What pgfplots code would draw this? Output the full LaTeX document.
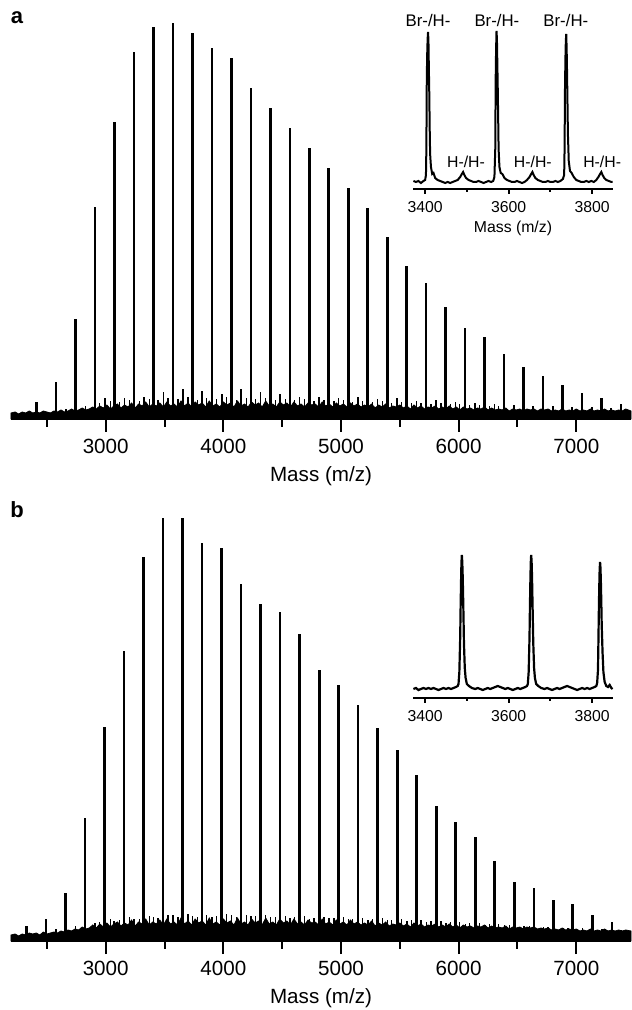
\documentclass[border=0pt]{standalone}
\usepackage{fontspec}
\setmainfont{Liberation Sans}
\usepackage{pgfplots}
\pgfplotsset{compat=1.18}

\pgfplotsset{
  spec/.style={scale only axis, clip=false,
    axis x line=bottom, axis y line=none,
    x axis line style={-, line width=1pt},
    tick align=outside,
    tick style={black, line width=1pt},
    /pgf/number format/1000 sep={},
    /pgf/number format/assume math mode=true,
    ymin=0},
  main/.style={spec, width=310pt, xmin=2195, xmax=7465,
    xtick={3000,4000,5000,6000,7000}, minor xtick={2500,3500,4500,5500,6500},
    major tick length=6.5pt, minor tick length=4pt,
    tick label style={font=\fontsize{10.3}{12}\selectfont}},
  inset/.style={spec, width=100pt, xmin=3371, xmax=3850,
    xtick={3400,3600,3800}, minor xtick={3500,3700},
    major tick length=2.5pt, minor tick length=1.5pt,
    tick label style={font=\fontsize{7.9}{9}\selectfont}},
}
\newcommand{\mainfont}{\fontsize{10.3}{12}\selectfont}
\newcommand{\insfont}{\fontsize{7.9}{9}\selectfont}
\newcommand{\brfont}{\fontsize{8.4}{10}\selectfont}

\begin{document}
\begin{tikzpicture}
\path[use as bounding box] (0,0) rectangle (315.5pt,505pt);

% ---------- panel a ----------
\node[font=\bfseries\fontsize{11}{13}\selectfont] at (8.5pt,496pt) {a};
\begin{axis}[main, at={(5.5pt,295.5pt)}, anchor=south west, height=199.5pt, ymax=399]
% baseline noise
\addplot[black, fill=black, line width=0.4pt] coordinates {
(2195,6)(2230,7)(2260,5)(2290,7)(2320,6)(2350,8)(2380,6)(2410,7)(2440,6)(2470,8)
(2500,7)(2530,6)(2560,8)(2590,7)(2620,9)(2650,7)(2680,8)(2710,10)(2740,8)(2770,9)
(2800,11)(2830,9)(2860,10)(2890,12)(2920,10)(2950,13)(2980,11)(3010,14)(3040,10)(3070,13)
(3100,15)(3130,11)(3160,14)(3190,12)(3220,16)(3250,11)(3280,15)(3310,13)(3340,17)(3370,12)
(3400,15)(3430,13)(3460,16)(3490,12)(3520,17)(3550,13)(3580,15)(3610,12)(3640,18)(3670,13)
(3700,16)(3730,12)(3760,17)(3790,14)(3820,16)(3850,12)(3880,18)(3910,13)(3940,15)(3970,12)
(4000,17)(4030,14)(4060,16)(4090,12)(4120,18)(4150,13)(4180,15)(4210,12)(4240,17)(4270,14)
(4300,16)(4330,12)(4360,18)(4390,13)(4420,15)(4450,12)(4480,17)(4510,14)(4540,16)(4570,12)
(4600,17)(4630,13)(4660,15)(4690,12)(4720,16)(4750,14)(4780,15)(4810,12)(4840,17)(4870,13)
(4900,15)(4930,12)(4960,16)(4990,13)(5020,15)(5050,12)(5080,16)(5110,13)(5140,15)(5170,12)
(5200,14)(5230,12)(5260,15)(5290,11)(5320,14)(5350,12)(5380,15)(5410,11)(5440,13)(5470,12)
(5500,14)(5530,11)(5560,13)(5590,10)(5620,14)(5650,11)(5680,13)(5710,10)(5740,12)(5770,11)
(5800,13)(5830,10)(5860,12)(5890,10)(5920,13)(5950,10)(5980,12)(6010,9)(6040,12)(6070,10)
(6100,11)(6130,9)(6160,11)(6190,10)(6220,12)(6250,9)(6280,11)(6310,9)(6340,10)(6370,9)
(6400,11)(6430,8)(6460,10)(6490,9)(6520,10)(6550,8)(6580,10)(6610,9)(6640,10)(6670,8)
(6700,10)(6730,9)(6760,10)(6790,8)(6820,9)(6850,8)(6880,10)(6910,8)(6940,9)(6970,8)
(7000,10)(7030,8)(7060,9)(7090,8)(7120,10)(7150,8)(7180,9)(7210,8)(7240,10)(7270,8)
(7300,9)(7330,8)(7360,9)(7390,8)(7420,10)(7465,8)
} \closedcycle;
% small noise spikes
\addplot[ycomb, black, line width=0.6pt] coordinates {
(2950,16)(3040,18)(3115,17)(3200,19)(3285,18)(3370,20)(3445,19)(3530,21)(3615,20)(3700,22)
(3780,19)(3860,21)(3945,20)(4030,22)(4110,19)(4195,21)(4275,20)(4360,21)(4440,19)(4525,20)
(4605,19)(4690,20)(4770,18)(4855,19)(4940,18)(5020,19)(5100,17)(5185,18)(5270,17)(5350,18)
(5430,16)(5515,17)(5600,16)(5680,16)(5765,15)(5850,16)(5930,15)(6010,15)(6095,14)(6175,14)
(6260,13)(6340,13)
};
% H-/H- satellite peaks
\addplot[ycomb, black, line width=0.8pt] coordinates {
(2662,10)(2828,13)(2993,21)(3159,21)(3324,22)(3490,27)(3655,30)(3821,28)(3986,25)(4152,30)
(4317,27)(4483,25)(4648,22)(4814,22)(4979,21)(5145,22)(5310,20)(5476,21)(5641,18)(5807,19)
(5972,17)(6138,16)(6303,15)(6469,14)(6634,13)(6800,13)(6965,12)(7131,12)(7296,11)
};
% Br-/H- main peaks
\addplot[ycomb, black, line width=1.3pt] coordinates {
(2414,17)(2579,37)(2745,100)(2910,212)(3076,297)(3241,367)(3407,392)(3572,396)(3738,386)(3903,371)
(4069,361)(4234,331)(4400,311)(4565,291)(4731,271)(4896,251)(5062,231)(5227,211)(5393,182)(5558,153)
(5724,136)(5889,112)(6055,91)(6220,82)(6386,65)(6551,52)(6717,43)(6882,34)(7048,26)(7213,21)
(7379,15)
};
\node[font=\mainfont] at (axis description cs:0.5,0) [yshift=-28.5pt] {Mass (m/z)};
\end{axis}

% inset a
\begin{axis}[inset, at={(206.5pt,410.5pt)}, anchor=south west, height=82pt, ymax=164]
\addplot[black, line width=1pt] coordinates {
(3372,8)(3378,7)(3384,8)(3390,6)(3396,8)(3400,9)(3402,14)(3403,40)(3404,110)(3405,135)
(3406,150)(3407,157)(3408,148)(3409,120)(3410,95)(3411,60)(3412,35)(3414,22)(3417,15)(3420,16)
(3424,11)(3430,9)(3436,8)(3442,7)(3448,6)(3454,7)(3460,6)(3466,7)(3472,8)(3478,9)
(3484,12)(3488,15)(3491,17)(3494,14)(3498,11)(3504,9)(3510,8)(3516,7)(3522,7)(3528,8)
(3534,7)(3540,6)(3546,7)(3552,8)(3558,7)(3563,8)(3566,12)(3568,40)(3569,110)(3570,140)
(3571,158)(3572,150)(3573,125)(3574,100)(3575,70)(3576,40)(3578,22)(3581,16)(3585,15)(3590,11)
(3596,9)(3602,8)(3608,7)(3614,7)(3620,8)(3626,7)(3632,6)(3638,7)(3644,9)(3650,12)
(3654,15)(3657,17)(3660,14)(3664,11)(3670,9)(3676,8)(3682,7)(3688,7)(3694,8)(3700,7)
(3706,7)(3712,8)(3718,7)(3724,8)(3730,10)(3733,14)(3734,40)(3735,100)(3736,130)(3737,148)
(3738,155)(3739,140)(3740,115)(3741,85)(3742,55)(3744,28)(3747,18)(3751,16)(3756,12)(3762,9)
(3768,8)(3774,7)(3780,7)(3786,8)(3792,7)(3798,8)(3804,7)(3810,9)(3815,12)(3819,15)
(3822,17)(3825,14)(3829,11)(3834,9)(3840,8)(3846,7)(3849,7)
};
\node[font=\brfont] at (axis cs:3407,168) {Br-/H-};
\node[font=\brfont] at (axis cs:3572,168) {Br-/H-};
\node[font=\brfont] at (axis cs:3737,168) {Br-/H-};
\node[font=\insfont] at (axis cs:3498,27) {H-/H-};
\node[font=\insfont] at (axis cs:3658,27) {H-/H-};
\node[font=\insfont] at (axis cs:3824,27) {H-/H-};
\node[font=\insfont] at (axis description cs:0.5,0) [yshift=-19.5pt] {Mass (m/z)};
\end{axis}

% ---------- panel b ----------
\node[font=\bfseries\fontsize{11}{13}\selectfont] at (8.5pt,250pt) {b};
\begin{axis}[main, at={(5.5pt,34.5pt)}, anchor=south west, height=212pt, ymax=424]
\addplot[black, fill=black, line width=0.4pt] coordinates {
(2195,6)(2230,7)(2260,5)(2290,7)(2320,6)(2350,8)(2380,7)(2410,8)(2440,6)(2470,9)
(2500,7)(2530,8)(2560,9)(2590,8)(2620,10)(2650,9)(2680,11)(2710,10)(2740,12)(2770,11)
(2800,14)(2830,12)(2860,13)(2890,16)(2920,13)(2950,17)(2980,14)(3010,18)(3040,14)(3070,17)
(3100,19)(3130,15)(3160,18)(3190,16)(3220,21)(3250,15)(3280,19)(3310,17)(3340,22)(3370,16)
(3400,19)(3430,17)(3460,21)(3490,16)(3520,22)(3550,17)(3580,19)(3610,16)(3640,23)(3670,17)
(3700,20)(3730,16)(3760,22)(3790,18)(3820,20)(3850,16)(3880,23)(3910,17)(3940,19)(3970,16)
(4000,22)(4030,18)(4060,20)(4090,16)(4120,23)(4150,17)(4180,19)(4210,16)(4240,22)(4270,18)
(4300,20)(4330,16)(4360,23)(4390,17)(4420,19)(4450,16)(4480,22)(4510,18)(4540,20)(4570,16)
(4600,22)(4630,17)(4660,19)(4690,16)(4720,21)(4750,18)(4780,19)(4810,16)(4840,22)(4870,17)
(4900,19)(4930,16)(4960,21)(4990,17)(5020,19)(5050,16)(5080,21)(5110,17)(5140,19)(5170,16)
(5200,18)(5230,16)(5260,20)(5290,15)(5320,18)(5350,16)(5380,19)(5410,15)(5440,17)(5470,16)
(5500,18)(5530,15)(5560,17)(5590,14)(5620,18)(5650,15)(5680,17)(5710,14)(5740,16)(5770,15)
(5800,17)(5830,14)(5860,16)(5890,14)(5920,17)(5950,14)(5980,16)(6010,13)(6040,16)(6070,14)
(6100,15)(6130,13)(6160,15)(6190,14)(6220,16)(6250,13)(6280,15)(6310,13)(6340,14)(6370,13)
(6400,15)(6430,12)(6460,14)(6490,13)(6520,14)(6550,12)(6580,14)(6610,13)(6640,14)(6670,12)
(6700,13)(6730,12)(6760,13)(6790,11)(6820,12)(6850,11)(6880,13)(6910,11)(6940,12)(6970,11)
(7000,12)(7030,10)(7060,11)(7090,10)(7120,12)(7150,10)(7180,11)(7210,10)(7240,12)(7270,10)
(7300,11)(7330,10)(7360,11)(7390,10)(7420,11)(7465,10)
} \closedcycle;
% small noise spikes
\addplot[ycomb, black, line width=0.6pt] coordinates {
(2950,19)(3040,22)(3115,21)(3200,24)(3285,22)(3370,25)(3445,23)(3530,26)(3615,24)(3700,27)
(3780,24)(3860,26)(3945,25)(4030,27)(4110,24)(4195,26)(4275,25)(4360,26)(4440,24)(4525,25)
(4605,24)(4690,25)(4770,23)(4855,24)(4940,23)(5020,24)(5100,22)(5185,23)(5270,22)(5350,23)
(5430,21)(5515,22)(5600,21)(5680,21)(5765,20)(5850,20)(5930,19)(6010,19)(6095,18)(6175,18)
(6260,17)(6340,17)(6430,16)(6600,15)(6760,14)(6930,13)
};
% Br-/H- satellite peaks
\addplot[ycomb, black, line width=0.8pt] coordinates {
(2576,12)(2742,15)(2908,18)(3073,20)(3239,22)(3405,24)(3571,26)(3737,25)(3903,24)(4068,26)
(4234,25)(4400,24)(4566,23)(4732,22)(4897,23)(5063,22)(5229,21)(5395,21)(5561,20)(5727,19)
(5892,18)(6058,17)(6224,16)(6390,16)(6556,15)(6722,14)(6887,13)(7053,13)(7219,12)(7385,11)
};
% H-/H- main peaks
\addplot[ycomb, black, line width=1.3pt] coordinates {
(2327,15)(2493,22)(2659,48)(2825,123)(2991,214)(3156,290)(3322,384)(3488,423)(3654,423)(3820,398)
(3985,393)(4151,357)(4317,337)(4483,329)(4649,307)(4815,271)(4980,256)(5146,236)(5312,213)(5478,191)
(5644,166)(5810,135)(5975,119)(6141,104)(6307,80)(6473,59)(6639,53)(6805,41)(6970,37)(7136,26)
(7302,19)
};
\node[font=\mainfont] at (axis description cs:0.5,0) [yshift=-28.5pt] {Mass (m/z)};
\end{axis}

% inset b
\begin{axis}[inset, at={(206.5pt,156pt)}, anchor=south west, height=79pt, ymax=158]
\addplot[black, line width=1.1pt] coordinates {
(3372,9)(3378,10)(3384,8)(3390,9)(3396,10)(3402,9)(3408,10)(3414,9)(3420,10)(3426,9)
(3432,8)(3438,9)(3444,10)(3450,9)(3456,10)(3462,9)(3468,10)(3474,11)(3478,12)(3480,14)
(3482,26)(3484,60)(3485,90)(3486,115)(3487,135)(3488,143)(3489,136)(3490,122)(3491,102)(3492,80)
(3493,55)(3495,30)(3497,20)(3500,14)(3505,12)(3512,10)(3520,9)(3526,10)(3532,9)(3538,8)
(3544,9)(3550,10)(3556,9)(3562,10)(3568,11)(3574,12)(3580,11)(3586,10)(3592,9)(3598,10)
(3604,9)(3610,8)(3616,9)(3622,10)(3628,9)(3634,10)(3640,11)(3644,12)(3646,14)(3648,26)
(3650,60)(3651,90)(3652,115)(3653,135)(3654,143)(3655,137)(3656,122)(3657,100)(3658,78)(3659,55)
(3661,30)(3663,20)(3666,14)(3671,12)(3678,10)(3686,9)(3692,10)(3698,9)(3704,8)(3710,9)
(3716,10)(3722,9)(3728,10)(3734,11)(3740,12)(3746,11)(3752,10)(3758,9)(3764,8)(3770,9)
(3776,10)(3782,9)(3788,10)(3794,9)(3800,10)(3806,11)(3810,12)(3812,15)(3814,28)(3815,55)
(3816,85)(3817,110)(3818,128)(3819,136)(3820,130)(3821,115)(3822,95)(3823,72)(3825,45)(3827,26)
(3830,16)(3834,12)(3838,11)(3842,13)(3846,10)(3849,9)
};
\end{axis}
\end{tikzpicture}
\end{document}
